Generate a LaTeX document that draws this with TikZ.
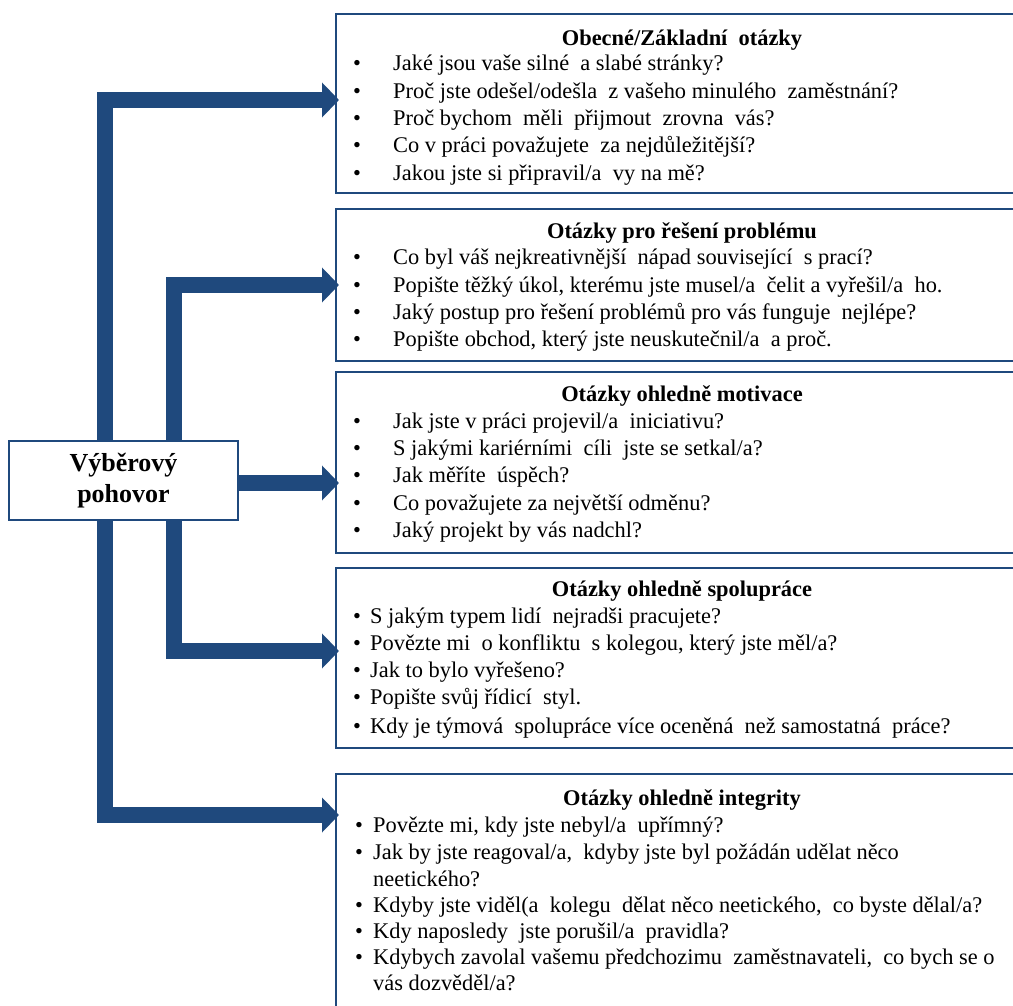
\documentclass[tikz,border=0pt]{standalone}
\usepackage{fontspec}
\setmainfont{Liberation Serif}
\usetikzlibrary{arrows.meta}
\definecolor{navy}{HTML}{1F497D}
\newcommand\qb[1]{\makebox[#1][l]{•}}
\begin{document}
\begin{tikzpicture}[x=1pt,y=-1pt,
  qbox/.style={draw=navy, line width=1.8pt, fill=white, rectangle, anchor=north west,
    inner sep=0pt, minimum width=720pt},
  hub/.style={draw=navy, line width=1.8pt, fill=white, align=center, inner sep=0pt,
    minimum width=229pt, minimum height=79pt, font=\fontsize{26}{31}\selectfont\bfseries},
  flow/.style={draw=navy, line width=16pt, line join=miter,
    -{Triangle[length=17pt,width=34pt]}},
  qtitle/.style={anchor=base, inner sep=0pt, font=\fontsize{22.4}{26}\selectfont\bfseries},
  qline/.style={anchor=base west, inner sep=0pt, font=\fontsize{22.4}{26}\selectfont}
]
\clip (0,0) rectangle (1013,1006);
\fill[white] (0,0) rectangle (1013,1006);

% question boxes
\node[qbox, minimum height=179pt] (q1) at (335,13) {};
\node[qbox, minimum height=152pt] (q2) at (335,208) {};
\node[qbox, minimum height=181pt] (q3) at (335,371) {};
\node[qbox, minimum height=180pt] (q4) at (335,567) {};
\node[qbox, minimum height=280pt] (q5) at (335,773) {};

% central node
\node[hub] (hub) at (123.5,480.5) {Výběrový\\pohovor};

% trunk positions and arrow levels
\coordinate (b1) at (105,0);
\coordinate (b2) at (174,0);
\coordinate (a1) at (0,100);
\coordinate (a2) at (0,285);
\coordinate (a3) at (0,483);
\coordinate (a4) at (0,651);
\coordinate (a5) at (0,815);

\draw[flow] (hub.north -| b1) |- ([xshift=4pt]q1.west |- a1);
\draw[flow] (hub.north -| b2) |- ([xshift=4pt]q2.west |- a2);
\draw[flow] (hub.east |- a3) -- ([xshift=4pt]q3.west |- a3);
\draw[flow] (hub.south -| b2) |- ([xshift=4pt]q4.west |- a4);
\draw[flow] (hub.south -| b1) |- ([xshift=4pt]q5.west |- a5);

% box 1
\node[qtitle] (t1) at (682,46) {Obecné/Základní~ otázky};
\node[qline] (q1l1) at (353,71)  {\qb{40pt}Jaké jsou vaše silné~ a slabé stránky?};
\node[qline] (q1l2) at (353,99)  {\qb{40pt}Proč jste odešel/odešla~ z vašeho minulého~ zaměstnání?};
\node[qline] (q1l3) at (353,126) {\qb{40pt}Proč bychom~ měli~ přijmout~ zrovna~ vás?};
\node[qline] (q1l4) at (353,153) {\qb{40pt}Co v práci považujete~ za nejdůležitější?};
\node[qline] (q1l5) at (353,181) {\qb{40pt}Jakou jste si připravil/a~ vy na mě?};

% box 2
\node[qtitle] (t2) at (682,238) {Otázky pro řešení problému};
\node[qline] (q2l1) at (353,265) {\qb{40pt}Co byl váš nejkreativnější~ nápad související~ s prací?};
\node[qline] (q2l2) at (353,292) {\qb{40pt}Popište těžký úkol, kterému jste musel/a~ čelit a vyřešil/a~ ho.};
\node[qline] (q2l3) at (353,319) {\qb{40pt}Jaký postup pro řešení problémů pro vás funguje~ nejlépe?};
\node[qline] (q2l4) at (353,346) {\qb{40pt}Popište obchod, který jste neuskutečnil/a~ a proč.};

% box 3
\node[qtitle] (t3) at (682,401) {Otázky ohledně motivace};
\node[qline] (q3l1) at (353,428) {\qb{40pt}Jak jste v práci projevil/a~ iniciativu?};
\node[qline] (q3l2) at (353,455) {\qb{40pt}S jakými kariérními~ cíli~ jste se setkal/a?};
\node[qline] (q3l3) at (353,482) {\qb{40pt}Jak měříte~ úspěch?};
\node[qline] (q3l4) at (353,510) {\qb{40pt}Co považujete za největší odměnu?};
\node[qline] (q3l5) at (353,537) {\qb{40pt}Jaký projekt by vás nadchl?};

% box 4
\node[qtitle] (t4) at (682,596) {Otázky ohledně spolupráce};
\node[qline] (q4l1) at (353,623) {\qb{17pt}S jakým typem lidí~ nejradši pracujete?};
\node[qline] (q4l2) at (353,650) {\qb{17pt}Povězte mi~ o konfliktu~ s kolegou, který jste měl/a?};
\node[qline] (q4l3) at (353,677) {\qb{17pt}Jak to bylo vyřešeno?};
\node[qline] (q4l4) at (353,704) {\qb{17pt}Popište svůj řídicí~ styl.};
\node[qline] (q4l5) at (353,733) {\qb{17pt}Kdy je týmová~ spolupráce více oceněná~ než samostatná~ práce?};

% box 5
\node[qtitle] (t5) at (682,805) {Otázky ohledně integrity};
\node[qline] (q5l1) at (355,832) {\qb{18pt}Povězte mi, kdy jste nebyl/a~ upřímný?};
\node[qline] (q5l2) at (355,859) {\qb{18pt}Jak by jste reagoval/a,~ kdyby jste byl požádán udělat něco};
\node[qline] (q5l3) at (373,886) {neetického?};
\node[qline] (q5l4) at (355,912) {\qb{18pt}Kdyby jste viděl(a~ kolegu~ dělat něco neetického,~ co byste dělal/a?};
\node[qline] (q5l5) at (355,938) {\qb{18pt}Kdy naposledy~ jste porušil/a~ pravidla?};
\node[qline] (q5l6) at (355,964) {\qb{18pt}Kdybych zavolal vašemu předchozimu~ zaměstnavateli,~ co bych se o};
\node[qline] (q5l7) at (373,990) {vás dozvěděl/a?};
\end{tikzpicture}
\end{document}
